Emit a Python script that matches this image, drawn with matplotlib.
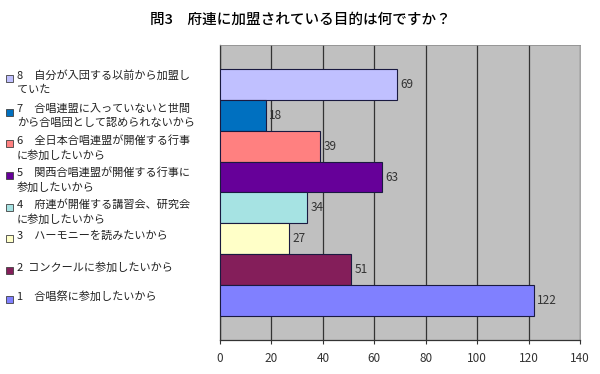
import matplotlib.pyplot as plt

plt.rcParams['font.family'] = ['Noto Sans CJK JP', 'DejaVu Sans']

# data, top bar first
labels = [
    "8　自分が入団する以前から加盟し\nていた",
    "7　合唱連盟に入っていないと世間\nから合唱団として認められないから",
    "6　全日本合唱連盟が開催する行事\nに参加したいから",
    "5　関西合唱連盟が開催する行事に\n参加したいから",
    "4　府連が開催する講習会、研究会\nに参加したいから",
    "3　ハーモニーを読みたいから",
    "2  コンクールに参加したいから",
    "1　合唱祭に参加したいから",
]
values = [69, 18, 39, 63, 34, 27, 51, 122]
colors = ["#C0C0FF", "#0070C0", "#FF8080", "#660099",
          "#A6E3E3", "#FFFFC8", "#841E5A", "#8080FF"]
label_y = [78, 112, 143, 175, 207, 238, 270, 299]  # pixel rows of legend entries

fig = plt.figure(figsize=(6, 3.74), dpi=100)
W, H = 600, 374
ax = fig.add_axes([220 / W, 1 - 340 / H, 360 / W, 295 / H])

n = len(values)
ypos = list(range(n - 1, -1, -1))
ax.barh(ypos, values, height=1.0, color=colors, edgecolor="#1a1a40", linewidth=0.8, zorder=3)
for y, v in zip(ypos, values):
    ax.text(v + 1.2, y, str(v), va="center", ha="left", fontsize=8.5, color="#333333", zorder=4)

ax.set_xlim(0, 140)
ax.set_ylim(-1.29, n - 1 + 1.29)
ax.set_facecolor("#C0C0C0")
ax.set_xticks(range(0, 141, 20))
ax.grid(axis="x", color="#333333", linewidth=0.9, zorder=1)
ax.set_yticks([])
ax.tick_params(axis="x", length=3, labelsize=8.5, labelcolor="#333333", pad=6, color="#333333")
for s in ["top", "right"]:
    ax.spines[s].set_color("#909090")
    ax.spines[s].set_linewidth(0.6)
for s in ["left", "bottom"]:
    ax.spines[s].set_color("#333333")
    ax.spines[s].set_linewidth(0.9)

fig.text(0.5, 1 - 20 / H, "問3　府連に加盟されている目的は何ですか？",
         ha="center", va="center", fontsize=10.5, fontweight="medium")

for lab, c, py in zip(labels, colors, label_y):
    fig.patches.append(plt.Rectangle((6 / W, 1 - (py + 4) / H), 7 / W, 7 / H,
                                     transform=fig.transFigure, facecolor=c,
                                     edgecolor="#404040", linewidth=0.6))
    fig.text(17 / W, 1 - (py - 8) / H, lab, ha="left", va="top",
             fontsize=8, color="#222222", linespacing=1.5)

fig.savefig("out.png", dpi=100)
